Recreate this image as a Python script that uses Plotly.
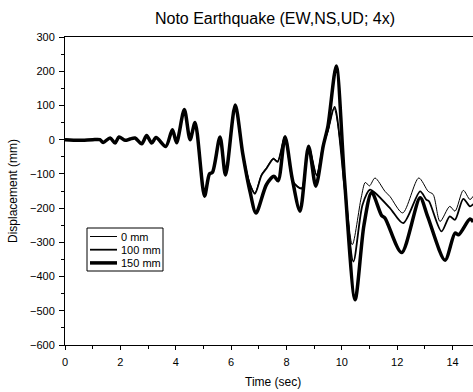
import plotly.graph_objects as go

# Shared motion before the three responses separate (time in s, displacement in mm)
t_common = [0.0, 0.5, 1.0, 1.26, 1.38, 1.63, 1.81, 1.95, 2.17, 2.35, 2.53, 2.77,
            2.95, 3.13, 3.29, 3.64, 3.88, 4.03, 4.31, 4.52, 4.70, 5.04, 5.22,
            5.33, 5.60, 5.80, 6.15, 6.42]
d_common = [0, -2, 0, 0, -8, 5, -10, 8, -2, 2, 5, -12,
            12, -10, 6, -20, 29, -9, 88, 0, 50, -165, -100,
            -95, 8, -103, 101, -40]

# 0 mm
t_0mm = [6.68, 6.86, 7.10, 7.28, 7.53, 7.68, 7.95, 8.25, 8.55, 8.80, 9.09, 9.33, 9.50,
         9.72, 10.10, 10.38, 10.70, 10.85, 11.00, 11.20, 11.56, 11.74, 12.20,
         12.78, 13.12, 13.30, 13.55, 13.90, 14.09, 14.39, 14.63, 14.75]
d_0mm = [-128, -155, -102, -82, -54, -63, 10, -122, -141, -19, -102, -15, 25,
         92, -120, -307, -170, -125, -135, -112, -151, -166, -214,
         -112, -151, -160, -239, -195, -209, -148, -175, -165]

# 100 mm
t_100mm = [6.68, 6.86, 7.10, 7.28, 7.53, 7.68, 7.95, 8.25, 8.55, 8.80, 9.09, 9.33, 9.50,
           9.74, 10.10, 10.42, 10.75, 11.02, 11.20, 11.74, 12.22, 12.83, 13.05,
           13.15, 13.60, 13.90, 14.09, 14.39, 14.63, 14.75]
d_100mm = [-130, -158, -104, -84, -56, -65, 10, -124, -143, -19, -104, -15, 27,
           96, -140, -356, -190, -146, -155, -200, -244, -151, -175,
           -180, -268, -224, -234, -173, -195, -188]

# 150 mm
t_150mm = [6.68, 6.90, 7.28, 7.55, 7.70, 7.95, 8.20, 8.49, 8.80, 9.06, 9.33, 9.50,
           9.80, 10.10, 10.48, 10.80, 11.08, 11.44, 11.56, 12.16, 12.83, 13.10,
           13.73, 14.09, 14.22, 14.63, 14.75]
d_150mm = [-150, -214, -131, -107, -120, 8, -110, -209, -19, -136, -18, 40,
           215, -120, -468, -250, -154, -222, -229, -330, -170, -224,
           -352, -273, -278, -232, -240]

labels = ["0 mm", "100 mm", "150 mm"]
widths = [1.0, 1.8, 3.5]
times = [t_0mm, t_100mm, t_150mm]
disps = [d_0mm, d_100mm, d_150mm]

fig = go.Figure()
for name, tt, dd, w in zip(labels, times, disps, widths):
    fig.add_trace(go.Scatter(
        x=t_common + tt, y=d_common + dd, name=name, mode="lines",
        line=dict(color="black", width=w, shape="spline", smoothing=0.8),
        showlegend=False,
    ))

font_main = "Liberation Sans, Arial, sans-serif"
W, H = 473, 392
L, R, T, B = 65, 0, 37, 47
PW, PH = W - L - R, H - T - B


def px(x):
    return (x - L) / PW


def py(y):
    return 1 - (y - T) / PH


# legend drawn as a framed box with line samples and labels
shapes = [dict(type="rect", xref="paper", yref="paper",
               x0=px(87), x1=px(163), y0=py(228), y1=py(271),
               line=dict(color="black", width=1), fillcolor="white", layer="above")]
annotations = []
for i, (name, w) in enumerate(zip(labels, widths)):
    yy = 236.5 + i * 13.2
    shapes.append(dict(type="line", xref="paper", yref="paper",
                       x0=px(90), x1=px(117), y0=py(yy), y1=py(yy),
                       line=dict(color="black", width=w), layer="above"))
    annotations.append(dict(text=name, x=px(119), y=py(yy), xref="paper", yref="paper",
                            xanchor="left", yanchor="middle", showarrow=False,
                            font=dict(size=11)))

annotations += [
    dict(text="Displacement (mm)", x=px(13), y=py(191), xref="paper", yref="paper",
         xanchor="center", yanchor="middle", showarrow=False, textangle=-90,
         font=dict(size=12)),
    dict(text="Time (sec)", x=px(273), y=py(382), xref="paper", yref="paper",
         xanchor="center", yanchor="middle", showarrow=False, font=dict(size=12)),
]

fig.update_layout(
    width=W, height=H,
    margin=dict(l=L, r=R, t=T, b=B),
    paper_bgcolor="white", plot_bgcolor="white",
    font=dict(family=font_main, size=11, color="black"),
    title=dict(text="Noto Earthquake (EW,NS,UD; 4x)", x=275 / W, xref="container",
               xanchor="center", y=1 - 18 / H, yref="container", yanchor="middle",
               font=dict(size=16, family=font_main, color="black")),
    xaxis=dict(range=[0, 14.74], tickvals=[0, 2, 4, 6, 8, 10, 12, 14],
               showline=True, linecolor="black", linewidth=1, mirror=True,
               ticks="outside", ticklen=4, tickcolor="black", showgrid=False,
               zeroline=False, tickfont=dict(size=11), ticklabelstandoff=3,
               minor=dict(tickvals=[1, 3, 5, 7, 9, 11, 13], ticks="outside",
                          ticklen=3, tickcolor="black")),
    yaxis=dict(range=[-600, 300], tickvals=list(range(-600, 301, 100)),
               showline=True, linecolor="black", linewidth=1,
               ticks="outside", ticklen=5, tickcolor="black", showgrid=False,
               zeroline=False, tickfont=dict(size=11), ticklabelstandoff=2,
               minor=dict(tickvals=list(range(-550, 300, 100)), ticks="outside",
                          ticklen=3, tickcolor="black")),
    shapes=shapes,
    annotations=annotations,
)

fig.write_html("out.html")
